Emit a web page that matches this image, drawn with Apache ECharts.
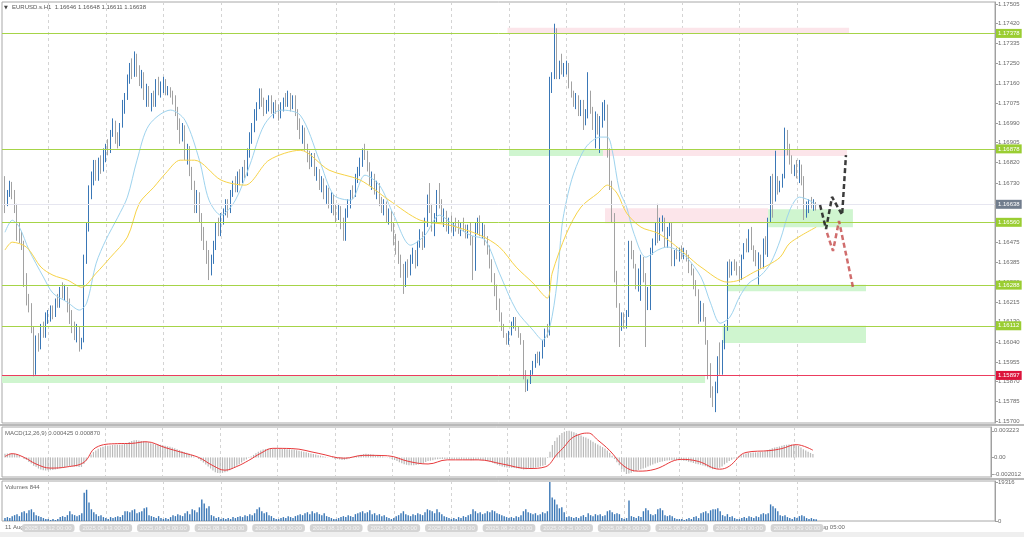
<!DOCTYPE html>
<html><head><meta charset="utf-8">
<script src="https://cdn.jsdelivr.net/npm/echarts@6/dist/echarts.min.js"></script>
<style>html,body{margin:0;padding:0;background:#fff}#c{width:1024px;height:537px}</style>
</head><body><div id="c"></div><script>
// ---------------- DATA ----------------
const symbolName = 'EURUSD.s.H1';
const PRICE_BASE = 1.15, PT = 0.00001; // candles are stored in points (1e-5) above PRICE_BASE
// one H1 bar per entry: [open, high, low, close]
const candles = [
// 11 Aug
[1700,1760,1600,1650],[1650,1700,1630,1690],[1690,1740,1670,1720],[1720,1735,1660,1680],[1680,1700,1600,1620],[1620,1640,1480,1500],[1500,1560,1470,1490],[1490,1520,1440,1470],[1470,1480,1280,1300],[1300,1340,1200,1230],[1230,1250,1170,1190],[1190,1210,1080,1100],[1100,1110,893,920],[920,1070,900,1050],[1050,1080,1000,1020],[1020,1120,1010,1100],[1100,1130,1060,1080],[1080,1170,1060,1150],
// 12 Aug
[1150,1180,1120,1160],[1160,1200,1130,1180],[1180,1200,1140,1160],[1160,1230,1150,1220],[1220,1250,1190,1200],[1200,1280,1190,1260],[1260,1300,1230,1240],[1230,1290,1220,1270],[1270,1280,1170,1190],[1190,1230,1120,1140],[1140,1180,1080,1100],[1100,1130,1050,1080],[1080,1120,1040,1100],[1100,1110,1000,1030],[1030,1060,1010,1050],[1050,1420,1040,1400],[1400,1560,1380,1540],[1540,1720,1520,1700],[1700,1780,1660,1760],[1760,1830,1720,1800],[1800,1830,1740,1760],[1760,1840,1740,1820],[1820,1850,1770,1790],[1790,1880,1780,1860],
// 13 Aug
[1860,1900,1820,1880],[1880,1920,1850,1870],[1870,1960,1860,1950],[1950,2010,1930,1990],[1990,2000,1900,1920],[1920,1950,1880,1900],[1900,1990,1890,1980],[1980,2090,1970,2070],[2070,2120,2030,2100],[2100,2200,2090,2180],[2180,2250,2160,2230],[2230,2270,2180,2200],[2200,2300,2190,2280],[2280,2290,2190,2210],[2210,2240,2150,2170],[2170,2220,2140,2200],[2200,2210,2090,2100],[2100,2160,2060,2140],[2140,2150,2060,2080],[2080,2120,2040,2100],[2100,2130,2060,2070],[2070,2180,2060,2160],[2160,2190,2110,2130],[2130,2170,2100,2150],
// 14 Aug
[2150,2190,2120,2170],[2170,2180,2110,2120],[2120,2150,2110,2140],[2140,2145,2100,2120],[2120,2130,2070,2090],[2090,2110,2020,2040],[2040,2060,1960,1980],[1980,2010,1900,1930],[1930,1990,1910,1970],[1970,1980,1830,1850],[1850,1900,1810,1880],[1880,1890,1760,1780],[1780,1800,1700,1720],[1720,1740,1600,1620],[1620,1700,1600,1680],[1680,1690,1560,1580],[1580,1600,1480,1500],[1500,1540,1440,1460],[1460,1480,1380,1400],[1400,1440,1310,1340],[1340,1420,1330,1400],[1400,1480,1380,1460],[1460,1560,1440,1540],[1540,1580,1500,1520],
// 15 Aug
[1520,1600,1500,1580],[1580,1620,1550,1600],[1600,1660,1590,1640],[1640,1660,1580,1610],[1610,1700,1600,1690],[1690,1740,1670,1720],[1720,1760,1690,1700],[1700,1780,1690,1760],[1760,1790,1720,1740],[1740,1800,1730,1790],[1790,1830,1750,1770],[1770,1880,1760,1860],[1860,1950,1840,1930],[1930,1990,1900,1970],[1970,2050,1950,2030],[2030,2080,2000,2060],[2060,2140,2050,2120],[2120,2140,2060,2080],[2080,2100,2020,2040],[2040,2090,2030,2070],[2070,2110,2040,2100],[2100,2110,2030,2050],[2050,2080,2010,2060],[2060,2090,2030,2040],
// 18 Aug
[2040,2070,2000,2020],[2020,2080,2010,2070],[2070,2100,2040,2090],[2090,2120,2060,2070],[2070,2130,2060,2110],[2110,2120,2040,2060],[2060,2110,2050,2100],[2100,2110,2020,2030],[2030,2050,1960,1980],[1980,2010,1920,1940],[1940,1980,1900,1960],[1960,1970,1870,1880],[1880,1900,1820,1840],[1840,1870,1790,1810],[1810,1860,1800,1850],[1850,1860,1760,1770],[1770,1800,1740,1780],[1780,1790,1700,1720],[1720,1760,1690,1740],[1740,1750,1660,1680],[1680,1720,1640,1700],[1700,1710,1620,1640],[1640,1690,1600,1670],[1670,1680,1590,1610],
// 19 Aug
[1610,1640,1560,1580],[1580,1640,1570,1620],[1620,1630,1530,1550],[1550,1580,1480,1500],[1500,1620,1480,1600],[1600,1660,1580,1640],[1640,1700,1620,1690],[1690,1720,1660,1680],[1680,1770,1670,1760],[1760,1800,1730,1780],[1780,1840,1760,1820],[1820,1880,1800,1860],[1860,1900,1830,1840],[1840,1870,1780,1800],[1800,1820,1720,1740],[1740,1780,1700,1760],[1760,1770,1680,1700],[1700,1740,1660,1720],[1720,1730,1630,1650],[1650,1670,1600,1620],[1620,1660,1590,1640],[1640,1650,1560,1580],[1580,1620,1550,1600],[1600,1610,1520,1540],
// 20 Aug
[1540,1560,1460,1480],[1480,1510,1420,1440],[1440,1480,1380,1400],[1400,1420,1320,1340],[1340,1380,1250,1300],[1300,1390,1280,1370],[1370,1400,1320,1340],[1340,1420,1330,1400],[1400,1450,1380,1430],[1430,1440,1360,1380],[1380,1480,1370,1470],[1470,1530,1450,1510],[1510,1520,1440,1460],[1460,1580,1450,1560],[1560,1680,1540,1660],[1660,1730,1600,1620],[1620,1640,1520,1540],[1540,1600,1500,1580],[1580,1700,1560,1680],[1680,1730,1620,1640],[1640,1660,1560,1580],[1580,1620,1540,1600],[1600,1610,1520,1540],[1540,1580,1510,1560],
// 21 Aug
[1560,1590,1520,1530],[1530,1560,1500,1550],[1550,1580,1520,1540],[1540,1570,1510,1520],[1520,1560,1500,1550],[1550,1580,1520,1530],[1530,1550,1490,1510],[1510,1550,1490,1540],[1540,1560,1460,1480],[1480,1500,1310,1360],[1360,1560,1350,1540],[1540,1580,1510,1560],[1560,1590,1500,1520],[1520,1560,1490,1540],[1540,1550,1460,1470],[1470,1500,1420,1440],[1440,1460,1360,1380],[1380,1400,1300,1320],[1320,1340,1240,1260],[1260,1290,1180,1200],[1200,1230,1130,1160],[1160,1170,1090,1100],[1100,1120,1060,1070],[1070,1080,1030,1040],
// 22 Aug
[1040,1090,1030,1080],[1080,1130,1070,1120],[1120,1150,1100,1140],[1140,1150,1090,1100],[1100,1110,1060,1070],[1070,1080,1030,1040],[1040,1050,880,900],[900,920,825,850],[850,880,830,870],[870,920,860,910],[910,960,900,950],[950,990,930,980],[980,1000,950,960],[960,1000,940,990],[990,1050,970,1040],[1040,1100,1020,1090],[1090,1120,1060,1080],[1080,2190,1070,2170],[2170,2210,2120,2190],[2190,2420,2180,2370],[2370,2400,2180,2200],[2200,2260,2180,2230],[2230,2290,2200,2220],[2220,2250,2190,2230],
// 25 Aug
[2230,2260,2200,2240],[2240,2250,2140,2150],[2150,2170,2100,2110],[2110,2130,2060,2080],[2080,2120,2050,2100],[2100,2110,2020,2040],[2040,2090,2020,2080],[2080,2090,1960,1990],[1990,2050,1980,2030],[2030,2210,2010,2110],[2110,2130,2030,2040],[2040,2060,1960,1980],[1980,2040,1880,2010],[2010,2030,1940,1960],[1960,2020,1860,2000],[2000,2080,1970,2020],[2020,2090,2000,2060],[2060,2070,1840,1860],[1860,1880,1700,1720],[1720,1740,1560,1580],[1580,1600,1300,1330],[1330,1350,1190,1200],[1200,1210,1020,1100],[1100,1170,1090,1160],
// 26 Aug
[1160,1170,1100,1120],[1120,1180,1100,1160],[1160,1480,1150,1460],[1460,1480,1400,1420],[1420,1440,1360,1370],[1370,1380,1270,1280],[1280,1360,1260,1340],[1340,1420,1220,1400],[1400,1410,1300,1320],[1320,1340,1020,1230],[1230,1280,1180,1260],[1260,1450,1180,1430],[1430,1490,1420,1480],[1480,1560,1460,1540],[1540,1640,1470,1490],[1490,1580,1480,1560],[1560,1590,1520,1570],[1570,1580,1450,1460],[1460,1540,1450,1530],[1530,1560,1500,1550],[1550,1560,1370,1380],[1380,1440,1370,1430],[1430,1450,1400,1410],[1410,1450,1390,1440],
// 27 Aug
[1440,1460,1400,1420],[1420,1450,1400,1430],[1430,1440,1390,1400],[1400,1420,1340,1360],[1360,1380,1330,1350],[1350,1360,1270,1290],[1290,1310,1240,1260],[1260,1270,1120,1140],[1140,1220,1130,1200],[1200,1210,1130,1140],[1140,1150,1030,1040],[1040,1050,880,900],[900,950,800,820],[820,850,760,800],[800,870,738,860],[860,980,820,960],[960,1040,900,920],[920,1050,900,1030],[1030,1120,1010,1100],[1100,1390,1090,1380],[1380,1400,1320,1340],[1340,1390,1330,1380],[1380,1400,1350,1370],[1370,1390,1330,1350],
// 28 Aug
[1350,1370,1300,1320],[1320,1420,1310,1410],[1410,1470,1400,1460],[1460,1490,1430,1440],[1440,1530,1430,1520],[1520,1540,1440,1450],[1450,1460,1390,1410],[1410,1440,1370,1380],[1380,1430,1290,1400],[1400,1420,1360,1370],[1370,1490,1360,1480],[1480,1500,1420,1450],[1450,1580,1410,1570],[1570,1760,1560,1740],[1740,1770,1580,1660],[1660,1870,1650,1750],[1750,1760,1680,1700],[1700,1740,1690,1730],[1730,1770,1710,1760],[1760,1970,1750,1890],[1890,1960,1850,1860],[1860,1900,1810,1830],[1830,1850,1770,1780],[1780,1810,1760,1800],
// 29 Aug
[1800,1830,1750,1760],[1760,1830,1730,1800],[1800,1810,1720,1740],[1740,1760,1570,1600],[1600,1650,1580,1630],[1630,1660,1600,1650],[1650,1670,1620,1640],[1640,1660,1610,1646],[1646,1648,1611,1638]
];
const volumes = [
1450,1930,1450,2410,2900,3380,2410,4350,4830,3860,5310,5800,4350,2900,2410,1930,1450,970,
970,480,970,480,970,1930,2410,1930,2900,4830,3380,2900,2410,2900,3860,14000,15450,9180,5800,4350,3380,2410,2900,1930,
1450,970,1930,1450,1930,2410,1930,2900,4830,4830,4350,5310,5800,3860,4350,4830,6280,6760,2900,2410,1930,1450,2410,1450,
970,1450,970,1930,2900,2410,3380,2900,2410,3860,4830,3380,5800,5310,4350,6760,10630,8690,6280,7250,2900,2410,1450,1930,
970,1450,970,1450,970,1930,1450,1930,2410,1930,2900,2410,3380,2900,3860,5800,6760,4830,3860,4350,2900,2410,1450,970,
970,1450,1930,1450,2410,1930,1450,2410,2900,3380,2900,3860,4350,3380,4830,3860,4350,3380,2900,3860,2410,1930,1450,970,
970,1450,1930,2410,1930,2900,2410,1930,3380,3860,4350,4830,3860,4350,5310,3380,3860,2900,3380,2410,2900,1930,1450,970,
1450,2410,2900,3860,4830,3380,2900,2410,3380,2900,3860,3380,2900,4350,5800,5310,4830,3860,5800,4350,3380,2410,1930,1450,
970,1450,970,1930,1450,2410,1930,2900,3380,5800,4830,3860,4350,3380,3860,4830,4350,5310,4830,3860,3380,2900,2410,1930,
1450,1930,1450,2410,1930,2900,4830,5800,4350,3860,3380,3860,2900,3380,4350,3860,4830,19316,11590,10630,8210,6280,6760,4350,
1930,2410,1930,1450,1930,1450,2410,2900,1930,3860,2900,2410,3380,2900,3380,2410,2900,4830,5310,4350,3380,3860,3380,1450,
970,1450,10140,2410,1930,1450,2410,1930,4830,6280,5310,3380,2900,3380,5800,6280,5310,2900,2410,2900,2410,1450,970,970,
970,480,970,1450,970,1930,2410,1450,3860,4350,4830,3860,5310,5800,5800,6280,4830,2900,2410,3380,1930,2410,1450,970,
970,1450,1930,1450,2410,1930,1450,2410,1930,3380,3860,3380,3860,8210,7250,6280,4830,2900,2410,2900,1930,1450,970,1930,
1450,2410,2900,2410,1450,970,1450,970,844
];
// MACD main (histogram) per bar, in 1e-6 units
const macdMain = [
440,460,480,470,430,320,180,0,-200,-300,-550,-750,-1000,-1150,-1350,-1480,-1560,-1580,
-1570,-1550,-1520,-1460,-1400,-1320,-1250,-1170,-1120,-1090,-1080,-1100,-1120,-1180,-1150,-800,-400,0,350,650,850,1050,1200,1300,
1380,1420,1450,1500,1520,1520,1530,1580,1650,1750,1880,1980,2080,2100,2060,2000,1950,1880,1800,1720,1650,1600,1560,1520,
1480,1420,1350,1280,1200,1100,1000,880,780,650,560,440,300,120,0,-180,-400,-620,-850,-1100,-1350,-1600,-1800,-1900,
-1920,-1880,-1800,-1700,-1560,-1400,-1220,-1020,-820,-620,-420,-250,-80,100,300,500,700,850,950,1020,1060,1080,1080,1070,
1050,1040,1030,1010,1000,980,960,930,880,820,760,700,620,540,470,400,340,270,210,150,90,30,-20,-80,
-150,-200,-260,-320,-300,-220,-120,-40,50,140,230,330,400,430,420,390,340,290,230,160,100,30,-30,-100,
-200,-320,-450,-580,-720,-820,-900,-940,-950,-950,-920,-860,-800,-700,-560,-450,-400,-350,-270,-220,-200,-190,-200,-210,
-220,-230,-230,-240,-240,-240,-250,-250,-270,-350,-330,-300,-300,-300,-330,-380,-450,-550,-650,-780,-900,-1000,-1100,-1180,
-1220,-1250,-1260,-1280,-1320,-1360,-1420,-1460,-1450,-1420,-1370,-1300,-1240,-1170,-1090,-1000,-930,-80,700,1500,2000,2400,2700,2950,
3100,3200,3223,3150,3050,2930,2800,2650,2500,2400,2250,2080,1900,1720,1550,1400,1250,1080,850,550,200,-200,-600,-950,
-1400,-1750,-2012,-1950,-1850,-1750,-1650,-1550,-1450,-1350,-1250,-1120,-980,-850,-750,-650,-560,-500,-430,-380,-360,-340,-330,-330,
-340,-360,-400,-450,-520,-600,-680,-760,-830,-900,-980,-1080,-1200,-1330,-1430,-1420,-1350,-1250,-1100,-850,-650,-450,-280,-120,
30,160,280,380,470,530,560,580,600,620,660,700,760,900,1000,1120,1200,1260,1320,1420,1500,1540,1560,1560,
1520,1460,1380,1200,1000,830,680,540,425
];
// MACD signal line read at points: [bar index, value in 1e-6]
const macdSignalPts = [[0,100],[3,450],[8,0],[13,-800],[19,-1300],[26,-1150],[33,-600],[38,1190],[47,1670],[53,1700],[59,1900],[67,1190],[74,600],[81,0],[87,-1000],[92,-1550],[97,-1100],[102,-360],[107,500],[112,1100],[120,1070],[131,500],[142,-100],[150,250],[160,200],[169,-500],[177,-800],[185,-300],[198,-300],[208,-800],[219,-1350],[226,-1150],[231,400],[234,1300],[237,2300],[241,2850],[244,2950],[248,2100],[253,830],[259,-1070],[265,-1670],[272,-1430],[283,-240],[290,-480],[299,-1430],[303,-1070],[310,600],[320,830],[325,1070],[331,1550],[338,870]];
// moving averages read at points: [bar index, price]
const maFastPts = [[0,1.16517],[3,1.16569],[6,1.16539],[10,1.16440],[16,1.16323],[20,1.16253],[26,1.16214],[31,1.16180],[34,1.16210],[38,1.16383],[42,1.16483],[47,1.16582],[51,1.16669],[55,1.16829],[60,1.16981],[69,1.17046],[75,1.17002],[81,1.16829],[85,1.16656],[90,1.16591],[96,1.16656],[102,1.16808],[108,1.16981],[115,1.17046],[123,1.17024],[131,1.16829],[137,1.16678],[144,1.16656],[150,1.16764],[156,1.16721],[162,1.16591],[169,1.16461],[175,1.16504],[181,1.16591],[187,1.16548],[194,1.16504],[200,1.16483],[206,1.16340],[213,1.16180],[220,1.16093],[224,1.16050],[227,1.16106],[230,1.16297],[232,1.16540],[234,1.16656],[237,1.16773],[242,1.16885],[248,1.16929],[251,1.16929],[253,1.16872],[256,1.16699],[259,1.16626],[262,1.16513],[267,1.16409],[272,1.16440],[276,1.16453],[280,1.16440],[284,1.16409],[290,1.16323],[294,1.16210],[298,1.16123],[302,1.16149],[306,1.16236],[310,1.16297],[315,1.16331],[319,1.16383],[323,1.16483],[327,1.16613],[331,1.16669],[335,1.16656],[338,1.16634]];
const maSlowPts = [[0,1.16440],[3,1.16474],[9,1.16452],[15,1.16366],[20,1.16331],[26,1.16310],[32,1.16279],[38,1.16340],[44,1.16409],[51,1.16496],[56,1.16643],[62,1.16712],[67,1.16773],[73,1.16829],[79,1.16829],[90,1.16743],[100,1.16721],[110,1.16829],[123,1.16872],[135,1.16786],[148,1.16743],[160,1.16656],[173,1.16569],[185,1.16548],[198,1.16504],[206,1.16453],[213,1.16366],[220,1.16297],[226,1.16232],[228,1.16340],[234,1.16513],[240,1.16626],[247,1.16686],[251,1.16721],[255,1.16686],[259,1.16600],[265,1.16539],[272,1.16513],[278,1.16470],[284,1.16418],[290,1.16366],[301,1.16301],[306,1.16310],[312,1.16344],[318,1.16375],[323,1.16409],[327,1.16470],[338,1.16539]];
// price axis tick labels
const priceTicks = ['1.15700','1.15785','1.15870','1.15955','1.16040','1.16130','1.16215','1.16300','1.16385','1.16475','1.16560','1.16645','1.16730','1.16820','1.16905','1.16990','1.17075','1.17160','1.17250','1.17335','1.17420','1.17505'];
const macdTicks = ['0.003223','0.00','-0.002012'];
const volumeTicks = ['19316','0'];
// day starts (bar index) and their date labels
const dayStarts = [18,42,66,90,114,138,162,186,210,234,258,282,306,330];
const dayLabels = ['2025.08.12 00:00','2025.08.13 00:00','2025.08.14 00:00','2025.08.15 00:00','2025.08.18 00:00','2025.08.19 00:00','2025.08.20 00:00','2025.08.21 00:00','2025.08.22 00:00','2025.08.25 00:00','2025.08.26 00:00','2025.08.27 00:00','2025.08.28 00:00','2025.08.29 00:00'];
const edgeLabels = [[7,'11 Aug 2025'],[342.5,'29 Aug 05:00']];
// horizontal levels
const levelPrices = [1.17378, 1.16878, 1.16560, 1.16288, 1.16112];
const redLevel = 1.15897;
// zones: [from bar, to bar, low price, high price, type]
const zones = [
 [209.4,351.7,1.17378,1.17403,'sell'],
 [210,249.2,1.16847,1.16878,'buy'],
 [249.2,350.8,1.16847,1.16878,'sell'],
 [250,318,1.16556,1.16621,'sell'],
 [318,353.3,1.16539,1.16617,'buy'],
 [300.8,358.75,1.16262,1.16290,'buy'],
 [299,358.75,1.16037,1.16112,'buy'],
 [-1.25,291.7,1.15864,1.15897,'buy']
];
// projected paths: [bar index, price]
const blackPath = [[339.6,1.16635],[342.1,1.16531],[344.6,1.16670],[348.8,1.16592],[350.4,1.16851]];
const redPath = [[342.5,1.16514],[345,1.16436],[347.5,1.16566],[353.3,1.16280]];

// ---------------- CHART ----------------
const FONT = 'Liberation Sans';
const FS = 6;
const P = v => +(PRICE_BASE + v * PT).toFixed(5);
const X_MIN = -1.25, X_MAX = 412.5;
const last = candles[candles.length - 1];
const lastClose = P(last[3]);
const near = (a, b) => Math.abs(a - b) < 1e-7;

const xLabelPos = edgeLabels.map(e => e[0]).concat(dayStarts);
const xLabelTxt = edgeLabels.map(e => e[1]).concat(dayLabels);

function xAxis(gi, labels) {
  return {
    type: 'value', gridIndex: gi, min: X_MIN, max: X_MAX,
    axisLine: { show: false, onZero: false },
    axisTick: { show: false, customValues: dayStarts },
    splitLine: { show: true, lineStyle: { color: '#d4d4d4', type: [3, 3], width: 1 } },
    axisLabel: labels ? {
      show: true, customValues: xLabelPos, margin: 3, fontSize: FS, fontFamily: FONT,
      formatter: v => {
        const k = xLabelPos.findIndex(p => Math.abs(p - v) < 1e-6);
        if (k < 0) return '';
        return (k < edgeLabels.length ? '{plain|' : '{box|') + xLabelTxt[k] + '}';
      },
      rich: {
        plain: { color: '#666', fontSize: FS, fontFamily: FONT },
        box: { color: '#f4f4f4', backgroundColor: '#d4d4d4', borderRadius: 3, padding: [1, 3, 1, 3], fontSize: FS, fontFamily: FONT }
      }
    } : { show: false }
  };
}
function yLabelStyle(extra) {
  return Object.assign({ show: true, margin: 3, fontSize: FS, fontFamily: FONT, color: '#6a6a6a' }, extra);
}
const priceVals = priceTicks.map(Number);
const macdVals = macdTicks.map(Number);
const volVals = volumeTicks.map(Number);

const boxLabel = (text, bg) => ({
  show: true, position: 'end', distance: 1, formatter: text,
  backgroundColor: bg, color: '#fff', fontSize: FS, fontFamily: FONT, padding: [2, 2, 1, 2]
});
const mark = (p, lineColor, tagColor) => ({
  yAxis: p, itemStyle: { color: lineColor },
  lineStyle: { color: lineColor, width: 1, type: 'solid', opacity: 1 },
  label: boxLabel(p.toFixed(5), tagColor)
});
const levelMarks = [mark(lastClose, '#e6e6f0', '#717d8d')]
  .concat(levelPrices.map(p => mark(p, '#a6d448', '#9acd32')))
  .concat([mark(redLevel, '#ec3c5e', '#dc143c')]);

const zoneColor = { buy: '#cff5cf', sell: '#fce5ea' };
const zoneAreas = zones.map(z => [
  { xAxis: z[0], yAxis: z[3], itemStyle: { color: zoneColor[z[4]] } },
  { xAxis: z[1], yAxis: z[2] }
]);

const option = {
  animation: false,
  backgroundColor: '#fff',
  grid: [
    { left: 2, top: 2, width: 993, height: 421, show: true, borderColor: '#a8a8a8', borderWidth: 1, backgroundColor: '#fff' },
    { left: 2, top: 427, width: 993, height: 50, show: true, borderColor: '#a8a8a8', borderWidth: 1, backgroundColor: '#fff' },
    { left: 2, top: 481, width: 993, height: 40, show: true, borderColor: '#a8a8a8', borderWidth: 1, backgroundColor: '#fff' }
  ],
  xAxis: [xAxis(0, false), xAxis(1, false), xAxis(2, true)],
  yAxis: [
    { type: 'value', gridIndex: 0, position: 'right', min: 1.15691, max: 1.17514,
      axisLine: { show: true, onZero: false, lineStyle: { color: '#a0a0a0' } },
      axisTick: { show: true, length: 3, customValues: priceVals, lineStyle: { color: '#a0a0a0' } },
      splitLine: { show: false },
      axisLabel: yLabelStyle({ customValues: priceVals, formatter: v => v.toFixed(5) }) },
    { type: 'value', gridIndex: 1, position: 'right', min: -0.00238, max: 0.003689,
      axisLine: { show: true, onZero: false, lineStyle: { color: '#a0a0a0' } },
      axisTick: { show: true, length: 3, customValues: macdVals, lineStyle: { color: '#a0a0a0' } },
      splitLine: { show: false },
      axisLabel: yLabelStyle({ customValues: macdVals, formatter: v => { const k = macdVals.findIndex(m => near(m, v)); return k < 0 ? '' : macdTicks[k]; } }) },
    { type: 'value', gridIndex: 2, position: 'right', min: 0, max: 19800,
      axisLine: { show: true, onZero: false, lineStyle: { color: '#a0a0a0' } },
      axisTick: { show: true, length: 3, customValues: volVals, lineStyle: { color: '#a0a0a0' } },
      splitLine: { show: false },
      axisLabel: yLabelStyle({ customValues: volVals, formatter: v => { const k = volVals.findIndex(m => Math.abs(m - v) < 0.5); return k < 0 ? '' : volumeTicks[k]; } }) }
  ],
  series: [
    { type: 'line', name: 'zones', xAxisIndex: 0, yAxisIndex: 0, data: [], z: 1, silent: true,
      markArea: { silent: true, data: zoneAreas } },
    { type: 'line', name: 'levels', xAxisIndex: 0, yAxisIndex: 0, data: [], z: 2, silent: true, color: '#a6d448',
      markLine: { symbol: 'none', silent: true, animation: false, precision: 5, data: levelMarks } },
    { type: 'candlestick', name: symbolName, xAxisIndex: 0, yAxisIndex: 0, z: 3, barWidth: 1,
      data: candles.map((c, i) => [i, P(c[0]), P(c[3]), P(c[2]), P(c[1])]),
      encode: { x: 0, y: [1, 2, 3, 4] },
      itemStyle: { color: '#3a77b6', color0: '#a2a2a2', borderColor: '#3a77b6', borderColor0: '#a2a2a2', borderWidth: 1 } },
    { type: 'line', name: 'MA fast', xAxisIndex: 0, yAxisIndex: 0, z: 4, data: maFastPts, showSymbol: false, smooth: 0.3,
      lineStyle: { color: '#9ed3ee', width: 1 } },
    { type: 'line', name: 'MA slow', xAxisIndex: 0, yAxisIndex: 0, z: 4, data: maSlowPts, showSymbol: false, smooth: 0.3,
      lineStyle: { color: '#f7d347', width: 1 } },
    { type: 'line', name: 'up path', xAxisIndex: 0, yAxisIndex: 0, z: 6, data: blackPath, showSymbol: false,
      lineStyle: { color: 'rgba(25,25,25,0.85)', width: 2.5, type: [5, 3] } },
    { type: 'line', name: 'down path', xAxisIndex: 0, yAxisIndex: 0, z: 6, data: redPath, showSymbol: false,
      lineStyle: { color: 'rgba(196,72,72,0.8)', width: 2.5, type: [5, 3] } },
    { type: 'bar', name: 'MACD', xAxisIndex: 1, yAxisIndex: 1, barWidth: 1.2, z: 3,
      data: macdMain.map((v, i) => [i, v * 1e-6]), itemStyle: { color: '#b9b9b9' } },
    { type: 'line', name: 'Signal', xAxisIndex: 1, yAxisIndex: 1, z: 4, showSymbol: false, smooth: 0.4,
      data: macdSignalPts.map(p => [p[0], p[1] * 1e-6]), lineStyle: { color: '#e8393b', width: 1 } },
    { type: 'bar', name: 'Volumes', xAxisIndex: 2, yAxisIndex: 2, barWidth: 1.4, z: 3,
      data: volumes.map((v, i) => [i, v]), itemStyle: { color: '#3a77b6' } }
  ],
  graphic: [
    { type: 'rect', shape: { x: 0, y: 424, width: 1024, height: 2 }, style: { fill: '#b9b9b9' }, silent: true },
    { type: 'rect', shape: { x: 0, y: 478, width: 1024, height: 2 }, style: { fill: '#b9b9b9' }, silent: true },
    { type: 'rect', shape: { x: 0, y: 532, width: 1024, height: 5 }, style: { fill: '#efefef' }, silent: true },
    { type: 'text', left: 4, top: 5, style: { text: '▼', fontSize: 5, fill: '#444', fontFamily: 'DejaVu Sans' }, silent: true },
    { type: 'text', left: 12, top: 4, silent: true,
      style: { text: symbolName + '  ' + [last[0], last[1], last[2], last[3]].map(v => P(v).toFixed(5)).join(' '), fontSize: FS, fill: '#555', fontFamily: FONT } },
    { type: 'text', left: 5, top: 430, silent: true,
      style: { text: 'MACD(12,26,9) ' + (macdMain[macdMain.length - 1] * 1e-6).toFixed(6) + ' ' + (macdSignalPts[macdSignalPts.length - 1][1] * 1e-6).toFixed(6), fontSize: FS, fill: '#666', fontFamily: FONT } },
    { type: 'text', left: 5, top: 484, silent: true,
      style: { text: 'Volumes ' + volumes[volumes.length - 1], fontSize: FS, fill: '#666', fontFamily: FONT } }
  ]
};
const chart = echarts.init(document.getElementById('c'), null, { renderer: 'canvas' });
chart.setOption(option);
</script></body></html>
